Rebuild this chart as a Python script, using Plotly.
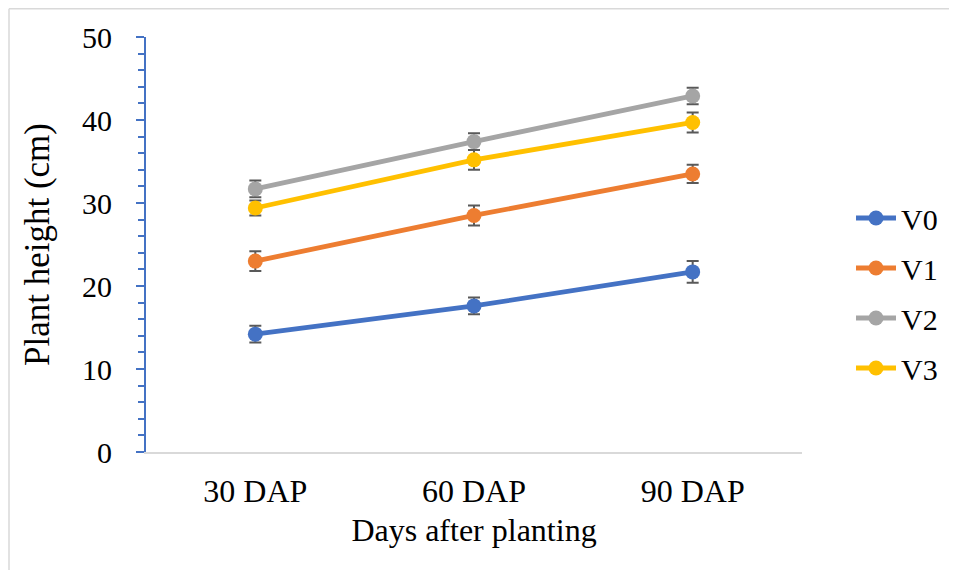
import plotly.graph_objects as go

categories = ["30 DAP", "60 DAP", "90 DAP"]
series_names = ["V0", "V1", "V2", "V3"]
v0 = [14.2, 17.6, 21.7]
v1 = [23.0, 28.5, 33.5]
v2 = [31.7, 37.4, 42.9]
v3 = [29.4, 35.2, 39.7]
e0 = [1.0, 1.0, 1.3]
e1 = [1.2, 1.2, 1.1]
e2 = [1.0, 1.0, 1.0]
e3 = [0.9, 1.2, 1.2]
colors = ["#4472C4", "#ED7D31", "#A5A5A5", "#FFC000"]

# page body has an 8px margin, so the figure is sized to fill the remaining window
W, H = 941, 562
L, R, T, B = 138, 147, 29, 118
pw, ph = W - L - R, H - T - B

fig = go.Figure()
for name, vals, errs, col in zip(series_names, [v0, v1, v2, v3], [e0, e1, e2, e3], colors):
    fig.add_trace(go.Scatter(
        x=categories, y=vals, name=name, mode="lines+markers",
        line=dict(color=col, width=4.8),
        marker=dict(color=col, size=15),
        error_y=dict(type="data", array=errs, visible=True, color="#595959", thickness=2, width=6),
        legendgroup=name,
    ))

font_family = "Liberation Serif, Times New Roman, serif"
fig.update_layout(
    width=W, height=H,
    margin=dict(l=L, r=R, t=T, b=B, autoexpand=False),
    paper_bgcolor="white", plot_bgcolor="white",
    font=dict(family=font_family, size=30, color="black"),
    showlegend=True,
    legend=dict(x=(851 - 8 - L) / pw, y=(H - B - (293 - 8)) / ph, xanchor="left", yanchor="middle",
                font=dict(size=30), tracegroupgap=8, itemwidth=40,
                bgcolor="rgba(0,0,0,0)"),
    xaxis=dict(
        type="category", showgrid=False, zeroline=False,
        showline=True, linecolor="#D9D9D9", linewidth=2,
        ticks="", tickfont=dict(size=32), ticklabelstandoff=10,
        title=dict(text="Days after planting", font=dict(size=32), standoff=10),
        range=[-0.5, 2.5],
    ),
    yaxis=dict(
        range=[0, 50], dtick=10, showgrid=False, zeroline=False,
        showline=True, linecolor="#4472C4", linewidth=2,
        ticks="outside", ticklen=8, tickcolor="#4472C4", tickwidth=2,
        minor=dict(dtick=2, ticks="outside", ticklen=6, tickcolor="#4472C4", tickwidth=1.5),
        tickfont=dict(size=30), ticklabelstandoff=18,
        title=dict(text="Plant height (cm)", font=dict(size=35), standoff=22),
    ),
)

# outer frame lines (left and top)
xl = (1 - L) / pw
xr = (W + 5 - L) / pw
yt = (H - B - 0.75) / ph
yb = (H - B - H - 5) / ph
fig.add_shape(type="line", xref="paper", yref="paper", x0=xl, x1=xl, y0=yb, y1=yt,
              line=dict(color="#D9D9D9", width=1.5))
fig.add_shape(type="line", xref="paper", yref="paper", x0=xl, x1=xr, y0=yt, y1=yt,
              line=dict(color="#D9D9D9", width=1.5))

fig.write_html("out.html")
